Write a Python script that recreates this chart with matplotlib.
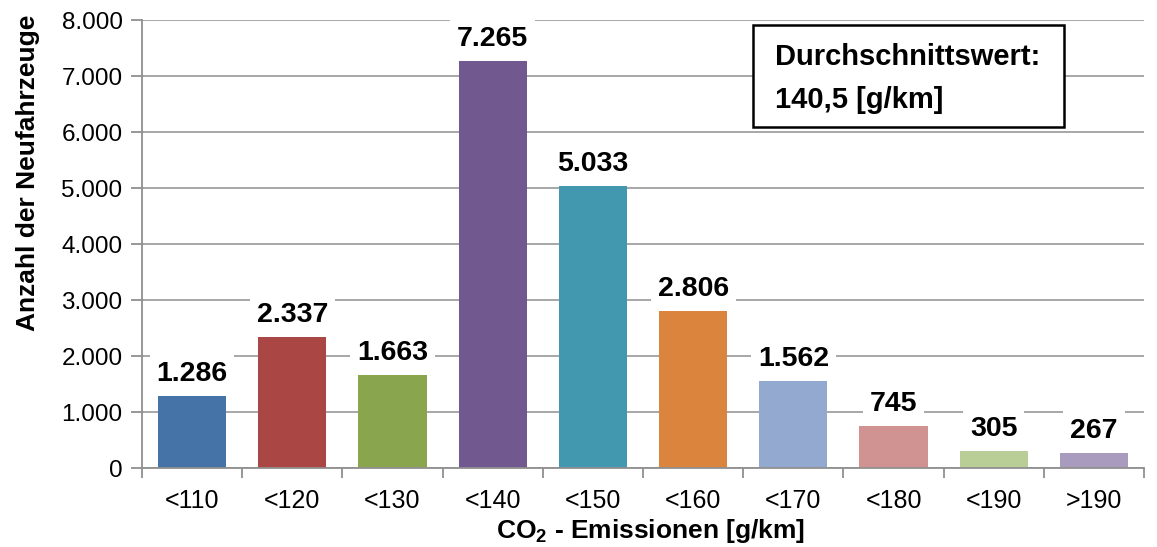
import matplotlib
matplotlib.use("Agg")
import matplotlib.pyplot as plt
from matplotlib.patches import Rectangle
from matplotlib.ticker import FuncFormatter

plt.rcParams['font.family'] = ['Liberation Sans', 'DejaVu Sans']
plt.rcParams['mathtext.fontset'] = 'custom'
plt.rcParams['mathtext.rm'] = 'Liberation Sans'
plt.rcParams['mathtext.bf'] = 'Liberation Sans:bold'

categories = ["<110", "<120", "<130", "<140", "<150", "<160", "<170", "<180", "<190", ">190"]
counts = [1286, 2337, 1663, 7265, 5033, 2806, 1562, 745, 305, 267]
colors = ["#4572A7", "#AA4643", "#89A54E", "#71588F", "#4198AF",
          "#DB843D", "#93A9CF", "#D19392", "#B9CD96", "#A99BBD"]
y_ticks = [0, 1000, 2000, 3000, 4000, 5000, 6000, 7000, 8000]


def de_fmt(v):
    return f"{int(v):,}".replace(",", ".")


fig = plt.figure(figsize=(11.57, 5.47), dpi=100)
ax = fig.add_axes([0.1227, 0.1444, 0.8661, 0.819])

x = list(range(len(categories)))
ax.bar(x, counts, width=0.68, color=colors, zorder=2)

for xi, v in zip(x, counts):
    ax.text(xi, v + 160, de_fmt(v), ha="center", va="bottom", fontsize=20.5,
            fontweight="bold", zorder=3,
            bbox=dict(facecolor="white", edgecolor="none", pad=5))

ax.set_xlim(-0.5, len(categories) - 0.5)
ax.set_ylim(0, 8000)
ax.set_yticks(y_ticks)
ax.yaxis.set_major_formatter(FuncFormatter(lambda v, p: de_fmt(v)))
ax.grid(axis="y", color="#A0A0A0", linewidth=1.3, zorder=0)
ax.set_axisbelow(True)

ax.set_xticks(x)
ax.set_xticklabels(categories)
ax.set_xticks([i + 0.5 for i in range(-1, len(categories))], minor=True)
ax.tick_params(axis="x", which="major", length=0, pad=15, labelsize=18)
ax.tick_params(axis="x", which="minor", length=7, color="#909090", width=1.3)
ax.tick_params(axis="y", length=8, color="#909090", width=1.3, labelsize=17.5, pad=6)

for s in ["top", "right"]:
    ax.spines[s].set_visible(False)
ax.spines["left"].set_color("#909090")
ax.spines["bottom"].set_color("#909090")
ax.spines["left"].set_linewidth(1.3)
ax.spines["bottom"].set_linewidth(1.3)

ax.set_ylabel("Anzahl der Neufahrzeuge", fontsize=19, fontweight="bold")
ax.yaxis.set_label_coords(-0.1138, 0.658)
ax.yaxis.label.set_va("center")
ax.set_xlabel(r"CO$_\mathbf{2}$ - Emissionen [g/km]", fontsize=19, fontweight="bold")
ax.xaxis.set_label_coords(0.508, -0.1406)
ax.xaxis.label.set_va("center")

# info box
ax.add_patch(Rectangle((0.6098, 0.761), 0.3104, 0.2278, transform=ax.transAxes,
                       facecolor="white", edgecolor="black", linewidth=1.8, zorder=5))
ax.text(0.632, 0.918, "Durchschnittswert:", transform=ax.transAxes, ha="left",
        va="center", fontsize=21, fontweight="bold", zorder=6)
ax.text(0.632, 0.821, "140,5 [g/km]", transform=ax.transAxes, ha="left",
        va="center", fontsize=21, fontweight="bold", zorder=6)

fig.savefig("out.png", dpi=100)
